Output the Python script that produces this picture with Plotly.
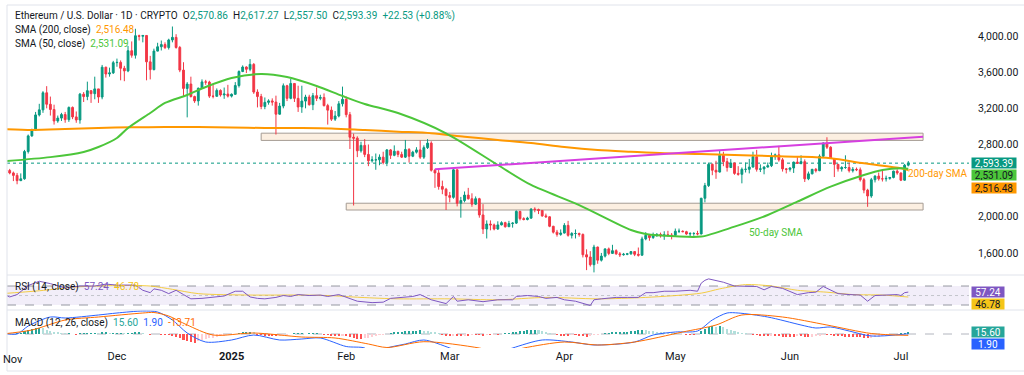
import pandas as pd
import plotly.graph_objects as go
from plotly.subplots import make_subplots

# ---------------- DATA ----------------
dates = pd.date_range("2024-11-01", "2025-07-03", freq="D")

opens = [
    # Nov
    2518, 2512, 2485, 2458, 2400, 2420, 2722, 2895, 2962, 3127, 3183, 3372, 3245, 3187, 3060,
    3092, 3131, 3075, 3210, 3105, 3071, 3357, 3330, 3395, 3362, 3415, 3325, 3655, 3580, 3592,
    # Dec
    3705, 3708, 3643, 3614, 3837, 3787, 4003, 3997, 4006, 3714, 3628, 3833, 3881, 3905, 3872, 3956,
    3985, 3873, 3623, 3420, 3468, 3330, 3282, 3422, 3492, 3490, 3335, 3333, 3398, 3348, 3358,
    # Jan
    3335, 3355, 3452, 3607, 3657, 3632, 3686, 3380, 3330, 3220, 3266, 3282, 3269, 3135, 3225, 3450,
    3310, 3475, 3310, 3215, 3280, 3325, 3240, 3340, 3310, 3320, 3230, 3180, 3080, 3115, 3250,
    # Feb
    3300, 3130, 2880, 2870, 2730, 2790, 2690, 2620, 2630, 2630, 2660, 2600, 2740, 2680,
    2725, 2690, 2660, 2745, 2670, 2715, 2740, 2660, 2765, 2815, 2515, 2485, 2335, 2305,
    # Mar
    2235, 2215, 2520, 2150, 2180, 2240, 2200, 2140, 2200, 2020, 1865, 1920, 1910, 1865, 1910, 1935,
    1890, 1925, 1930, 2060, 1980, 1970, 1985, 2085, 2080, 2070, 2010, 2000, 1895, 1830, 1805,
    # Apr
    1820, 1905, 1795, 1815, 1815, 1805, 1580, 1555, 1470, 1665, 1520, 1565, 1645, 1595, 1625,
    1590, 1580, 1585, 1590, 1615, 1585, 1575, 1755, 1795, 1770, 1790, 1805, 1790, 1800, 1795,
    # May
    1795, 1840, 1840, 1835, 1810, 1815, 1815, 1810, 2205, 2345, 2580, 2515, 2495, 2680, 2610, 2545,
    2595, 2480, 2470, 2525, 2525, 2550, 2665, 2525, 2530, 2550, 2565, 2665, 2685, 2630, 2530,
    # Jun
    2525, 2540, 2605, 2590, 2610, 2420, 2475, 2525, 2510, 2670, 2815, 2770, 2645, 2580, 2530,
    2545, 2545, 2510, 2525, 2520, 2410, 2295, 2230, 2410, 2450, 2420, 2420, 2425, 2435, 2505,
    # Jul
    2485, 2405, 2570.86,
]
highs = [
    2590, 2530, 2500, 2485, 2480, 2740, 2910, 2975, 3160, 3250, 3390, 3445, 3330, 3240, 3120,
    3150, 3160, 3220, 3220, 3165, 3370, 3380, 3495, 3400, 3550, 3415, 3680, 3660, 3650, 3725,
    3750, 3730, 3670, 3890, 3940, 4080, 4015, 4010, 4010, 3780, 3860, 3925, 3950, 3930, 3970, 4105,
    4020, 3890, 3710, 3490, 3550, 3340, 3430, 3520, 3515, 3505, 3460, 3420, 3410, 3430, 3460,
    3365, 3490, 3620, 3675, 3665, 3745, 3700, 3410, 3360, 3320, 3300, 3310, 3340, 3260, 3475, 3460,
    3525, 3480, 3450, 3450, 3350, 3350, 3370, 3430, 3350, 3365, 3250, 3220, 3170, 3280, 3440,
    3330, 3160, 2920, 2890, 2830, 2860, 2800, 2670, 2700, 2690, 2720, 2750, 2750, 2790,
    2730, 2720, 2850, 2760, 2730, 2770, 2845, 2790, 2860, 2835, 2530, 2520, 2400, 2320,
    2275, 2550, 2525, 2220, 2280, 2320, 2260, 2225, 2210, 2140, 1960, 1960, 1925, 1950, 1950, 1945,
    1955, 1940, 2070, 2065, 1995, 2000, 2095, 2105, 2090, 2070, 2035, 2005, 1900, 1855, 1860,
    1930, 1955, 1830, 1860, 1825, 1815, 1640, 1620, 1690, 1670, 1600, 1650, 1660, 1690, 1640,
    1610, 1600, 1600, 1620, 1615, 1660, 1780, 1830, 1800, 1825, 1820, 1825, 1840, 1845, 1820,
    1870, 1870, 1850, 1845, 1830, 1830, 1845, 2210, 2375, 2600, 2590, 2620, 2735, 2720, 2650, 2640,
    2600, 2560, 2545, 2600, 2640, 2720, 2740, 2580, 2560, 2600, 2710, 2700, 2785, 2650, 2540,
    2545, 2610, 2660, 2680, 2635, 2500, 2530, 2540, 2690, 2825, 2880, 2780, 2650, 2585, 2560,
    2680, 2600, 2550, 2545, 2545, 2430, 2310, 2430, 2460, 2490, 2520, 2455, 2440, 2510, 2525,
    2490, 2585, 2617.27,
]
lows = [
    2495, 2470, 2395, 2360, 2395, 2410, 2700, 2885, 2950, 3110, 3150, 3200, 3120, 3020, 3040,
    3060, 3040, 3050, 3080, 3040, 3030, 3270, 3290, 3260, 3300, 3260, 3300, 3540, 3550, 3580,
    3660, 3510, 3500, 3600, 3760, 3750, 3950, 3930, 3510, 3520, 3620, 3830, 3840, 3855, 3850, 3930,
    3860, 3600, 3330, 3100, 3320, 3260, 3230, 3415, 3460, 3315, 3310, 3330, 3330, 3305, 3320,
    3320, 3350, 3430, 3600, 3590, 3610, 3360, 3210, 3190, 3190, 3240, 3230, 2910, 3130, 3200, 3280,
    3300, 3270, 3160, 3150, 3200, 3230, 3180, 3280, 3290, 3220, 3020, 3060, 3060, 3100, 3220,
    3100, 2750, 2125, 2660, 2710, 2660, 2560, 2600, 2520, 2570, 2580, 2560, 2640, 2670,
    2660, 2650, 2650, 2600, 2660, 2700, 2640, 2640, 2750, 2500, 2320, 2300, 2250, 2075,
    2160, 2200, 2115, 1990, 2160, 2190, 2110, 2130, 1990, 1810, 1760, 1850, 1850, 1855, 1905, 1880,
    1890, 1880, 1920, 1960, 1960, 1960, 1980, 2050, 2030, 2000, 1990, 1885, 1815, 1780, 1790,
    1815, 1780, 1760, 1760, 1780, 1550, 1410, 1450, 1385, 1480, 1505, 1550, 1575, 1590, 1580,
    1555, 1570, 1575, 1580, 1565, 1560, 1570, 1740, 1735, 1755, 1780, 1770, 1745, 1780, 1750,
    1790, 1820, 1830, 1800, 1780, 1790, 1795, 1805, 2160, 2330, 2460, 2420, 2490, 2560, 2500, 2540,
    2465, 2455, 2370, 2490, 2480, 2545, 2500, 2495, 2470, 2545, 2550, 2630, 2610, 2500, 2480,
    2500, 2485, 2585, 2580, 2385, 2405, 2470, 2490, 2505, 2650, 2750, 2640, 2440, 2500, 2500,
    2530, 2490, 2490, 2505, 2390, 2260, 2110, 2210, 2380, 2400, 2390, 2390, 2410, 2425, 2465,
    2395, 2400, 2557.50,
]
closes = [
    2512, 2485, 2458, 2400, 2420, 2722, 2895, 2962, 3127, 3183, 3372, 3245, 3187, 3060, 3092,
    3131, 3075, 3210, 3105, 3071, 3357, 3330, 3395, 3362, 3415, 3325, 3655, 3580, 3592, 3705,
    3708, 3643, 3614, 3837, 3787, 4003, 3997, 4006, 3714, 3628, 3833, 3881, 3905, 3872, 3956, 3985,
    3873, 3623, 3420, 3468, 3330, 3282, 3422, 3492, 3490, 3335, 3333, 3398, 3348, 3358, 3335,
    3355, 3452, 3607, 3657, 3632, 3686, 3380, 3330, 3220, 3266, 3282, 3269, 3135, 3225, 3450, 3310,
    3475, 3310, 3215, 3280, 3325, 3240, 3340, 3310, 3320, 3230, 3180, 3080, 3115, 3250, 3300,
    3130, 2880, 2870, 2730, 2790, 2690, 2620, 2630, 2630, 2660, 2600, 2740, 2680, 2725,
    2690, 2660, 2745, 2670, 2715, 2740, 2660, 2765, 2815, 2515, 2485, 2335, 2305, 2235,
    2215, 2520, 2150, 2180, 2240, 2200, 2140, 2200, 2020, 1865, 1920, 1910, 1865, 1910, 1935, 1890,
    1925, 1930, 2060, 1980, 1970, 1985, 2085, 2080, 2070, 2010, 2000, 1895, 1830, 1805, 1820,
    1905, 1795, 1815, 1815, 1805, 1580, 1555, 1470, 1665, 1520, 1565, 1645, 1595, 1625, 1590,
    1580, 1585, 1590, 1615, 1585, 1575, 1755, 1795, 1770, 1790, 1805, 1790, 1800, 1795, 1795,
    1840, 1840, 1835, 1810, 1815, 1815, 1810, 2205, 2345, 2580, 2515, 2495, 2680, 2610, 2545, 2595,
    2480, 2470, 2525, 2525, 2550, 2665, 2525, 2530, 2550, 2565, 2665, 2685, 2630, 2530, 2525,
    2540, 2605, 2590, 2610, 2420, 2475, 2525, 2510, 2670, 2815, 2770, 2645, 2580, 2530, 2545,
    2545, 2510, 2525, 2520, 2410, 2295, 2230, 2410, 2450, 2420, 2420, 2425, 2435, 2505, 2485,
    2405, 2570.86, 2593.39,
]

sma200_dates = ["2024-10-31", "2024-11-08", "2024-11-17", "2024-11-26", "2024-12-05", "2024-12-14",
                "2024-12-23", "2025-01-01", "2025-01-10", "2025-01-19", "2025-01-28", "2025-02-06",
                "2025-02-15", "2025-02-24", "2025-03-05", "2025-03-14", "2025-03-23", "2025-04-01",
                "2025-04-10", "2025-04-19", "2025-04-28", "2025-05-08", "2025-05-17", "2025-05-26",
                "2025-06-03", "2025-06-12", "2025-06-21", "2025-07-01", "2025-07-03"]
sma200 = [2970, 2960, 2970, 2982, 2990, 2993, 2993, 2988, 2982, 2982, 2978, 2960, 2942, 2925,
          2886, 2850, 2816, 2772, 2739, 2720, 2703, 2695, 2684, 2673, 2665, 2647, 2592, 2537, 2516.48]

sma50_dates = ["2024-11-01", "2024-11-13", "2024-11-22", "2024-11-26", "2024-12-01", "2024-12-04",
               "2024-12-10", "2024-12-14", "2024-12-20", "2024-12-25", "2025-01-01", "2025-01-09",
               "2025-01-16", "2025-01-24", "2025-01-31", "2025-02-06", "2025-02-15", "2025-02-28",
               "2025-03-14", "2025-03-23", "2025-04-05", "2025-04-19", "2025-04-23", "2025-05-01",
               "2025-05-08", "2025-05-17", "2025-05-26", "2025-06-03", "2025-06-12", "2025-06-21",
               "2025-06-26", "2025-07-01", "2025-07-03"]
sma50 = [2617, 2660, 2717, 2772, 2872, 2982, 3148, 3259, 3347, 3436, 3535, 3580, 3546, 3447, 3336,
         3248, 3148, 2924, 2573, 2352, 2130, 1854, 1810, 1784, 1781, 1891, 2020, 2167, 2333, 2462,
         2517, 2536, 2531.09]

rsi_dates = ["2024-10-31", "2024-11-02", "2024-11-04", "2024-11-07", "2024-11-10", "2024-11-13",
             "2024-11-17", "2024-11-21", "2024-11-25", "2024-11-28", "2024-12-01", "2024-12-05",
             "2024-12-06", "2024-12-08", "2024-12-10", "2024-12-11", "2024-12-13", "2024-12-15",
             "2024-12-17", "2024-12-19", "2024-12-21", "2024-12-24", "2024-12-27", "2024-12-30",
             "2025-01-02", "2025-01-04", "2025-01-06", "2025-01-08", "2025-01-10", "2025-01-13",
             "2025-01-15", "2025-01-17", "2025-01-19", "2025-01-22", "2025-01-25", "2025-01-27",
             "2025-01-30", "2025-02-02", "2025-02-04", "2025-02-08", "2025-02-11", "2025-02-13",
             "2025-02-16", "2025-02-19", "2025-02-21", "2025-02-24", "2025-02-28", "2025-03-02",
             "2025-03-03", "2025-03-06", "2025-03-10", "2025-03-14", "2025-03-18", "2025-03-19",
             "2025-03-22", "2025-03-25", "2025-03-27", "2025-03-30", "2025-04-01", "2025-04-04",
             "2025-04-08", "2025-04-09", "2025-04-11", "2025-04-15", "2025-04-18", "2025-04-21",
             "2025-04-23", "2025-04-25", "2025-04-28", "2025-05-01", "2025-05-05", "2025-05-07",
             "2025-05-08", "2025-05-09", "2025-05-10", "2025-05-12", "2025-05-14", "2025-05-17",
             "2025-05-20", "2025-05-23", "2025-05-25", "2025-05-27", "2025-05-30", "2025-06-01",
             "2025-06-03", "2025-06-06", "2025-06-08", "2025-06-10", "2025-06-12", "2025-06-14",
             "2025-06-17", "2025-06-20", "2025-06-22", "2025-06-24", "2025-06-27", "2025-06-30",
             "2025-07-01", "2025-07-02", "2025-07-03"]
rsi_vals = [54, 47, 52, 71, 80, 75, 66, 70, 70, 74, 72, 73, 72, 61, 56, 64, 61, 54, 61, 52,
            43, 44, 46, 49, 59, 59, 47, 44, 43, 46, 50, 48, 52, 50, 51, 48, 52, 44, 38, 35,
            36, 44, 46, 48, 52, 41, 33, 48, 38, 41, 37, 41, 41, 48, 50, 48, 44, 46, 41, 38,
            29, 41, 43, 46, 46, 46, 56, 56, 59, 59, 61, 59, 76, 82, 85, 81, 78, 70, 70, 69,
            62, 69, 65, 58, 52, 56, 57, 69, 62, 54, 52, 51, 38, 50, 51, 52, 50, 56, 57.24]

rsima_dates = ["2024-10-31", "2024-11-10", "2024-11-20", "2024-12-01", "2024-12-10", "2024-12-16",
               "2024-12-23", "2025-01-06", "2025-01-19", "2025-01-27", "2025-02-05", "2025-02-15",
               "2025-03-01", "2025-03-14", "2025-03-27", "2025-04-10", "2025-04-23", "2025-05-08",
               "2025-05-13", "2025-05-20", "2025-05-27", "2025-06-03", "2025-06-11", "2025-06-18",
               "2025-06-26", "2025-07-03"]
rsima_vals = [54, 60, 68, 71, 70, 63, 54, 51, 51, 50, 46, 43, 43, 41, 46, 43, 46, 55, 64, 73,
              70, 61, 57, 52, 51, 46.78]

macd_dates = ["2024-10-31", "2024-11-04", "2024-11-07", "2024-11-13", "2024-11-17", "2024-11-26",
              "2024-12-01", "2024-12-08", "2024-12-12", "2024-12-16", "2024-12-20", "2024-12-25",
              "2025-01-01", "2025-01-07", "2025-01-14", "2025-01-20", "2025-01-25", "2025-02-01",
              "2025-02-06", "2025-02-08", "2025-02-12", "2025-02-17", "2025-02-22", "2025-03-01",
              "2025-03-05", "2025-03-10", "2025-03-14", "2025-03-18", "2025-03-26", "2025-04-03",
              "2025-04-09", "2025-04-20", "2025-04-25", "2025-05-01", "2025-05-07", "2025-05-11",
              "2025-05-15", "2025-05-18", "2025-05-26", "2025-06-04", "2025-06-08", "2025-06-12",
              "2025-06-17", "2025-06-23", "2025-07-03"]
macd_vals = [10, 0, 80, 170, 160, 190, 210, 230, 220, 140, 10, -80, -60, -10, -60, -50, -40, -125,
             -140, -200, -140, -100, -60, -140, -200, -240, -190, -140, -60, -80, -110, -80, -10,
             20, 30, 140, 210, 210, 170, 90, 60, 70, 30, -20, 1.90]

signal_dates = ["2024-10-31", "2024-11-08", "2024-11-17", "2024-11-26", "2024-12-08", "2024-12-11",
                "2024-12-15", "2024-12-20", "2024-12-27", "2025-01-07", "2025-01-20", "2025-01-29",
                "2025-02-07", "2025-02-12", "2025-02-22", "2025-03-09", "2025-03-15", "2025-03-21",
                "2025-04-01", "2025-04-10", "2025-04-20", "2025-05-03", "2025-05-12", "2025-05-19",
                "2025-05-30", "2025-06-11", "2025-06-23", "2025-07-03"]
signal_vals = [0, 40, 140, 170, 210, 215, 180, 90, -10, 10, -30, -40, -100, -135, -77, -140, -190,
               -140, -80, -110, -80, 20, 90, 190, 170, 90, 5, -13.71]

hist_vals = [
    # Nov
    -5, 0, 0, 5, 10, 30, 45, 55, 60, 65, 60, 45, 35, 25, 15, 10, 5, 5, 0, -5,
    5, 5, 10, 10, 10, 5, 15, 15, 10, 10,
    # Dec
    10, 10, 5, 10, 10, 15, 15, 10, 0, -5, 0, 0, -5, -5, -10, -15, -25, -40, -60, -70,
    -75, -85, -70, -55, -45, -40, -35, -25, -20, -15, -10,
    # Jan
    -5, 0, 10, 15, 20, 25, 20, -5, -10, -15, -15, -20, -20, -15, -10, -5, 0, 5, 5, 5,
    0, 5, 5, 5, 0, -5, -10, -15, -20, -20, -15,
    # Feb
    -20, -30, -40, -45, -45, -40, -35, -25, -15, -10, -5, 0, 10, 15, 20, 25, 30, 30, 35, 35,
    40, 35, 30, 25, 15, 5, -5, -15,
    # Mar
    -20, -15, -20, -20, -15, -15, -10, -10, -10, -15, -10, -10, -5, -5, 0, 5, 10, 20, 25, 30,
    35, 40, 45, 45, 40, 30, 20, 10, 0, -10, -15,
    # Apr
    -15, -15, -10, -10, -15, -20, -25, -20, -10, -5, 0, 5, 10, 15, 20, 20, 25, 25, 30, 35,
    40, 45, 40, 35, 30, 25, 20, 15, 10, 5,
    # May
    5, 0, 0, -5, -5, -5, 0, 30, 50, 70, 80, 75, 80, 70, 55, 45, 35, 20, 10, 5,
    0, -5, -10, -15, -20, -20, -15, -15, -20, -25, -25,
    # Jun
    -25, -25, -20, -20, -30, -30, -25, -20, -15, -5, -5, -10, -15, -20, -20, -25, -25, -25, -25, -30,
    -35, -40, -35, -30, -25, -20, -15, -10, -5, 0,
    # Jul
    5, 10, 15.60,
]

upper_zone = ("2025-01-09", "2025-07-07", 2845, 2925)
lower_zone = ("2025-02-01", "2025-07-07", 2075, 2150)
trend_line = ("2025-02-25", 2525, "2025-07-07", 2886)

month_ticks = ["2024-12-01", "2025-01-01", "2025-02-01", "2025-03-01", "2025-04-01",
               "2025-05-01", "2025-06-01", "2025-07-01"]
month_labels = ["Dec", "<b>2025</b>", "Feb", "Mar", "Apr", "May", "Jun", "Jul"]
price_ticks = [1600, 2000, 2800, 3200, 3600, 4000]

for arr in (opens, highs, lows, closes, hist_vals):
    assert len(arr) == len(dates), len(arr)
assert len(rsi_dates) == len(rsi_vals)
assert len(macd_dates) == len(macd_vals)
assert len(signal_dates) == len(signal_vals)

# ---------------- STYLE ----------------
UP, DN = "#089981", "#F23645"
ORANGE, GREEN = "#FF9800", "#4CC63A"
PURPLE, YELLOW = "#7E57C2", "#F5C518"
BLUE, SIG = "#2962FF", "#FF6D00"
TXT = "#131722"
FONT = "Roboto"

W, H = 1024, 375
L, R, T, B = 7, 55, 5, 27
PW, PH = W - L - R, H - T - B


def px_x(px):
    return (px - L) / PW


def px_y(py):
    return 1 - (py - T) / PH


fig = make_subplots(rows=3, cols=1, shared_xaxes=True, vertical_spacing=0)

fig.add_trace(go.Candlestick(
    x=dates, open=opens, high=highs, low=lows, close=closes,
    increasing=dict(line=dict(color=UP, width=1), fillcolor=UP),
    decreasing=dict(line=dict(color=DN, width=1), fillcolor=DN),
    whiskerwidth=0, hoverinfo="skip", showlegend=False), row=1, col=1)
fig.add_trace(go.Scatter(x=sma200_dates, y=sma200, mode="lines",
                         line=dict(color=ORANGE, width=2, shape="spline", smoothing=0.8),
                         hoverinfo="skip"), row=1, col=1)
fig.add_trace(go.Scatter(x=sma50_dates, y=sma50, mode="lines",
                         line=dict(color=GREEN, width=2, shape="spline", smoothing=0.8),
                         hoverinfo="skip"), row=1, col=1)

# RSI
fig.add_trace(go.Scatter(x=rsima_dates, y=rsima_vals, mode="lines",
                         line=dict(color=YELLOW, width=1, shape="spline", smoothing=0.8),
                         opacity=0.8, hoverinfo="skip"), row=2, col=1)
fig.add_trace(go.Scatter(x=rsi_dates, y=rsi_vals, mode="lines",
                         line=dict(color=PURPLE, width=1), hoverinfo="skip"), row=2, col=1)

# MACD
hist_colors = []
prev = 0
for v in hist_vals:
    if v >= 0:
        hist_colors.append("#26A69A" if v >= prev else "#B2DFDB")
    else:
        hist_colors.append("#FF5252" if v <= prev else "#FFCDD2")
    prev = v
fig.add_trace(go.Bar(x=dates, y=hist_vals, marker=dict(color=hist_colors, line=dict(width=0)),
                     width=0.55 * 86400000, hoverinfo="skip"), row=3, col=1)
fig.add_trace(go.Scatter(x=macd_dates, y=macd_vals, mode="lines",
                         line=dict(color=BLUE, width=1, shape="spline", smoothing=0.8),
                         hoverinfo="skip"), row=3, col=1)
fig.add_trace(go.Scatter(x=signal_dates, y=signal_vals, mode="lines",
                         line=dict(color=SIG, width=1, shape="spline", smoothing=0.8),
                         hoverinfo="skip"), row=3, col=1)

xrange = ["2024-11-01 06:30", "2025-07-19 10:00"]
for i in (1, 2, 3):
    fig.update_xaxes(row=i, col=1, range=xrange, showgrid=False, zeroline=False,
                     showline=False, rangeslider_visible=False,
                     showticklabels=(i == 3), ticks="")
fig.update_xaxes(row=3, col=1, tickmode="array", tickvals=month_ticks, ticktext=month_labels,
                 tickfont=dict(family=FONT, size=11, color=TXT))

fig.update_layout(
    width=W, height=H, margin=dict(l=L, r=R, t=T, b=B),
    paper_bgcolor="white", plot_bgcolor="white", showlegend=False,
    bargap=0, font=dict(family=FONT, color=TXT),
    yaxis=dict(domain=[px_y(275), 1], range=[1356, 4343], side="right",
               tickmode="array", tickvals=price_ticks,
               ticktext=[f"{v:,.2f}" for v in price_ticks],
               tickfont=dict(family=FONT, size=10.5, color=TXT),
               ticks="outside", ticklen=6, tickcolor="rgba(0,0,0,0)",
               showgrid=False, zeroline=False),
    yaxis2=dict(domain=[px_y(310), px_y(275)], range=[19.5, 93.2], side="right",
                showticklabels=False, showgrid=False, zeroline=False),
    yaxis3=dict(domain=[0, px_y(310)], range=[-140, 240], side="right",
                showticklabels=False, showgrid=False, zeroline=False),
)

shapes = []
# zones
for z in (upper_zone, lower_zone):
    shapes.append(dict(type="rect", xref="x", yref="y", x0=z[0], x1=z[1], y0=z[2], y1=z[3],
                       fillcolor="rgba(250,226,200,0.55)", line=dict(color="#A59C94", width=1),
                       layer="below"))
# trend line
shapes.append(dict(type="line", xref="x", yref="y", x0=trend_line[0], y0=trend_line[1],
                   x1=trend_line[2], y1=trend_line[3], line=dict(color="#D63FE0", width=2)))
# last price dotted
shapes.append(dict(type="line", xref="paper", yref="y", x0=0, x1=1, y0=closes[-1], y1=closes[-1],
                   line=dict(color=UP, width=1, dash="dot"), layer="below"))
# RSI band and levels
shapes.append(dict(type="rect", xref="paper", yref="y2", x0=0, x1=1, y0=30, y1=70,
                   fillcolor="rgba(126,87,194,0.10)", line=dict(width=0), layer="below"))
for lvl, dash, col in ((70, "dash", "#9598A1"), (30, "dash", "#9598A1"), (50, "dot", "#C4C6CC")):
    shapes.append(dict(type="line", xref="paper", yref="y2", x0=0, x1=1, y0=lvl, y1=lvl,
                       line=dict(color=col, width=1, dash=dash), layer="below"))
# MACD zero
shapes.append(dict(type="line", xref="paper", yref="y3", x0=0, x1=1, y0=0, y1=0,
                   line=dict(color="#B2B5BE", width=1, dash="dash"), layer="below"))
# pane separators
for py in (275, 310):
    shapes.append(dict(type="line", xref="paper", yref="paper", x0=0, x1=px_x(1030),
                       y0=px_y(py), y1=px_y(py), line=dict(color="#E0E3EB", width=1)))
# widget frame
shapes.append(dict(type="rect", xref="paper", yref="paper", x0=0, x1=px_x(1030),
                   y0=px_y(371), y1=1, line=dict(color="#E0E3EB", width=1)))
fig.update_layout(shapes=shapes)

ann = []
sp = "\u00a0"
gap = "\u2002"


def c(txt, col):
    return f"<span style='color:{col}'>{txt}</span>"


chg = closes[-1] - closes[-2]
pct = chg / closes[-2] * 100
line1 = (f"Ethereum / U.S. Dollar · 1D · CRYPTO{gap}"
         f"O{c(f'{opens[-1]:,.2f}', UP)}{gap}H{c(f'{highs[-1]:,.2f}', UP)}{gap}"
         f"L{c(f'{lows[-1]:,.2f}', UP)}{gap}C{c(f'{closes[-1]:,.2f}', UP)}{gap}"
         f"{c(f'{chg:+.2f} ({pct:+.2f}%)', UP)}")
ann.append(dict(text=line1, x=px_x(13), y=px_y(16)))
ann.append(dict(text=f"SMA (200, close){gap}{c(f'{sma200[-1]:,.2f}', ORANGE)}",
                x=px_x(13), y=px_y(30)))
ann.append(dict(text=f"SMA (50, close){gap}{c(f'{sma50[-1]:,.2f}', GREEN)}",
                x=px_x(13), y=px_y(44)))
ann.append(dict(text=f"RSI (14, close){gap}{c(f'{rsi_vals[-1]:.2f}', PURPLE)}{gap}"
                     f"{c(f'{rsima_vals[-1]:.2f}', YELLOW)}",
                x=px_x(13), y=px_y(287)))
ann.append(dict(text=f"MACD (12, 26, close){gap}{c(f'{hist_vals[-1]:.2f}', '#26A69A')}{gap}"
                     f"{c(f'{macd_vals[-1]:.2f}', BLUE)}{gap}{c(f'{signal_vals[-1]:.2f}', SIG)}",
                x=px_x(13), y=px_y(323)))
for a in ann:
    a.update(xref="paper", yref="paper", xanchor="left", yanchor="middle", showarrow=False,
             font=dict(family=FONT, size=10, color=TXT))
# chart labels
ann.append(dict(text="200-day SMA", xref="paper", yref="paper", x=px_x(906), y=px_y(173),
                xanchor="left", yanchor="middle", showarrow=False,
                font=dict(family=FONT, size=10, color=ORANGE)))
ann.append(dict(text="50-day SMA", xref="paper", yref="paper", x=px_x(747), y=px_y(232),
                xanchor="left", yanchor="middle", showarrow=False,
                font=dict(family=FONT, size=10, color=GREEN)))
ann.append(dict(text="Nov", xref="paper", yref="paper", x=px_x(1), y=px_y(359),
                xanchor="left", yanchor="middle", showarrow=False,
                font=dict(family=FONT, size=11, color=TXT)))

# right-hand value boxes
boxes = [
    (f"{closes[-1]:,.2f}", "y", closes[-1], 0, UP, "white"),
    (f"{sma50[-1]:,.2f}", "y", sma50[-1], -6.5, GREEN, TXT),
    (f"{sma200[-1]:,.2f}", "y", sma200[-1], -18, ORANGE, TXT),
    (f"{rsi_vals[-1]:.2f}", "y2", rsi_vals[-1], 0, PURPLE, "white"),
    (f"{rsima_vals[-1]:.2f}", "y2", rsima_vals[-1], -6.5, YELLOW, TXT),
    (f"{hist_vals[-1]:.2f}", "y3", hist_vals[-1], 0.5, "#26A69A", "white"),
    (f"{macd_vals[-1]:.2f}", "y3", macd_vals[-1], -10.5, BLUE, "white"),
]
for txt, yr, val, shift, bg, fg in boxes:
    ann.append(dict(text=txt, xref="paper", yref=yr, x=px_x(971), y=val, yshift=shift,
                    xanchor="left", yanchor="middle", showarrow=False, bgcolor=bg,
                    width=44 if yr == "y" else 32, height=10, borderpad=0, align="center",
                    font=dict(family=FONT, size=10, color=fg)))
fig.update_layout(annotations=ann)

fig.write_html("out.html", config={"displayModeBar": False},
               post_script="document.body.style.margin='0';")
